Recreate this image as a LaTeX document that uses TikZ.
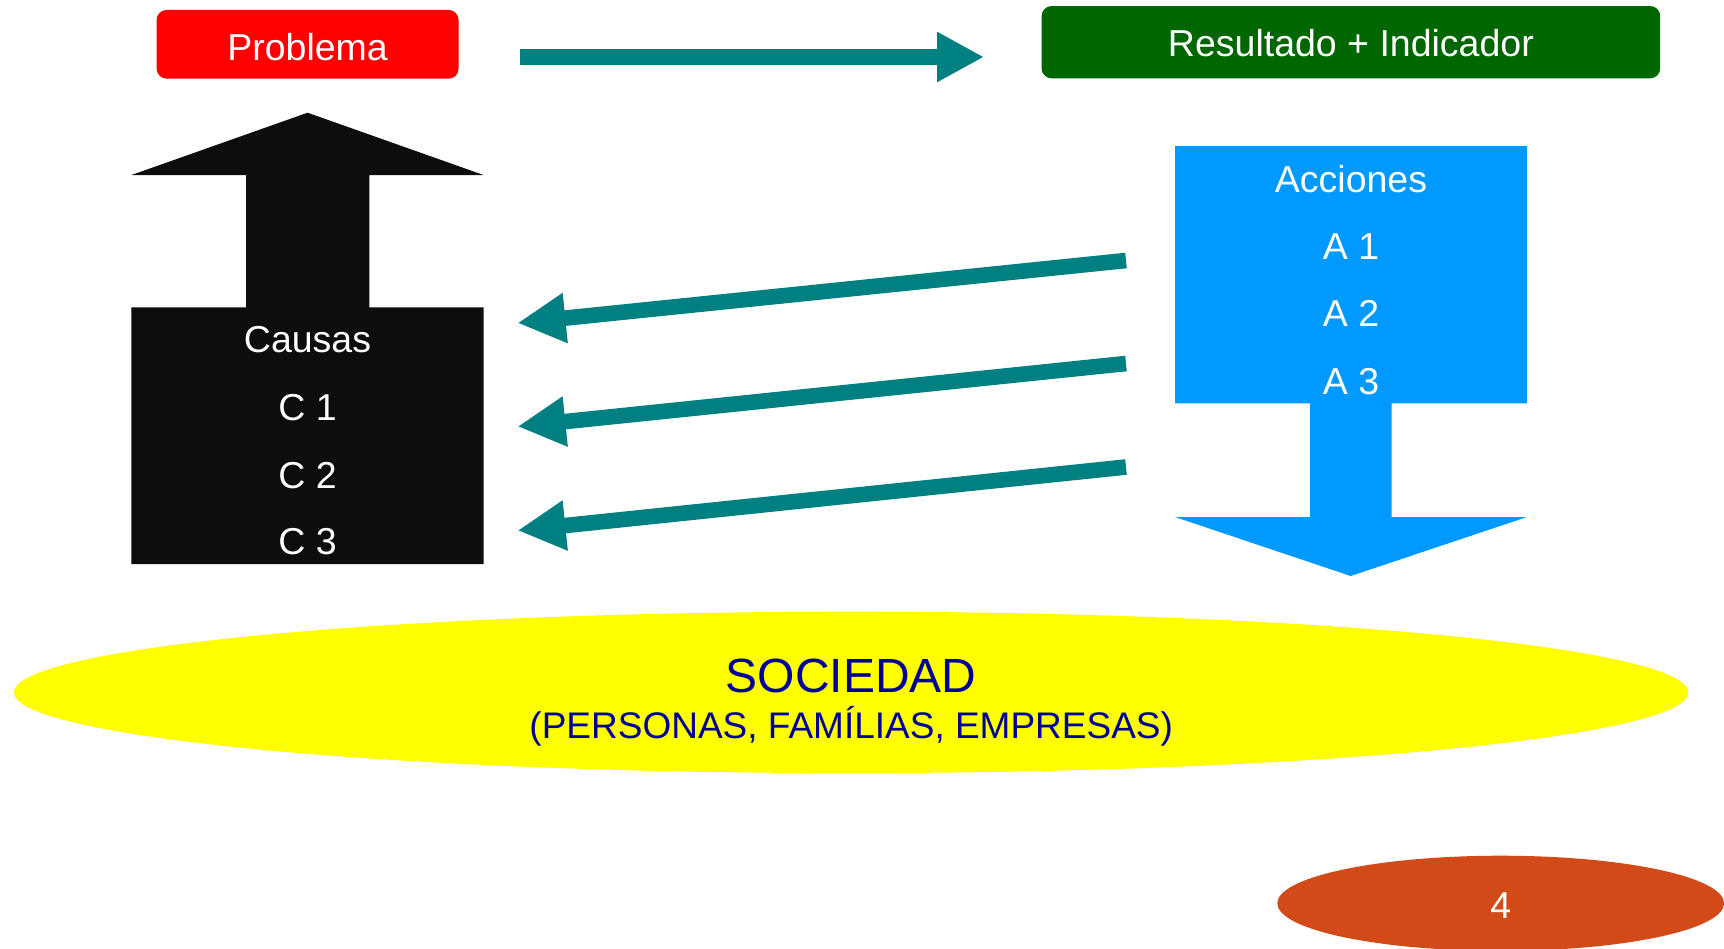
\documentclass[tikz,border=0pt]{standalone}
\usepackage{fontspec}
\setmainfont{Liberation Sans}
\usetikzlibrary{arrows.meta}
\definecolor{tealarr}{HTML}{008080}
\definecolor{probred}{HTML}{FF0000}
\definecolor{resgreen}{HTML}{006600}
\definecolor{accblue}{HTML}{0099FF}
\definecolor{causblack}{HTML}{0D0D0D}
\definecolor{socyellow}{HTML}{FFFF00}
\definecolor{socnavy}{HTML}{000099}
\definecolor{pageorange}{HTML}{D24A17}
\begin{document}
\begin{tikzpicture}[x=1pt,y=-1pt,
  lbl/.style={anchor=base,inner sep=0pt,text=white,font=\fontsize{37.5}{45}\selectfont},
  topbox/.style={draw=none,rounded corners=10pt,inner sep=0pt},
  tealline/.style={draw=tealarr,line width=15.6pt,line cap=butt,-{Triangle[width=47pt,length=48pt]}}]
\useasboundingbox (0,0) rectangle (1724,948);
% top boxes
\node[topbox,fill=probred,minimum width=302pt,minimum height=68.7pt] (prob) at (307.6,44.3) {};
\node[lbl] (tprob) at (307.6,60) {Problema};
\node[topbox,fill=resgreen,minimum width=618.6pt,minimum height=72.3pt] (res) at (1350.9,42.2) {};
\node[lbl] (tres) at (1350.9,56) {Resultado + Indicador};
% top arrow
\coordinate (pa) at (520,57);
\coordinate (ra) at (984,57);
\draw[tealline,-{Triangle[width=47pt,length=47pt]}] (pa) -- (ra);
% black up arrow with box
\fill[causblack] (131.3,564) -- (131.3,307.3) -- (246,307.3) -- (246,175) -- (131.5,175)
  -- (307.6,112.7) -- (483.5,175) -- (369.3,175) -- (369.3,307.3) -- (483.7,307.3) -- (483.7,564) -- cycle;
\node[lbl] (causas) at (307.5,352.7) {Causas};
\node[lbl] (c1) at (307.5,420.7) {C 1};
\node[lbl] (c2) at (307.5,488) {C 2};
\node[lbl] (c3) at (307.5,554.3) {C 3};
% blue down arrow with box
\fill[accblue] (1175,146) -- (1527,146) -- (1527,403.3) -- (1391.7,403.3) -- (1391.7,517) -- (1527,517)
  -- (1350.7,576) -- (1175,517) -- (1310,517) -- (1310,403.3) -- (1175,403.3) -- cycle;
\node[lbl] (acc) at (1351,192.3) {Acciones};
\node[lbl] (a1) at (1351,259.3) {A 1};
\node[lbl] (a2) at (1351,326) {A 2};
\node[lbl] (a3) at (1351,394) {A 3};
% diagonal arrows
\coordinate (s1) at (1126,260.5);
\coordinate (e1) at (517.5,323);
\coordinate (s2) at (1126,363.5);
\coordinate (e2) at (517.5,426.5);
\coordinate (s3) at (1126,467);
\coordinate (e3) at (517.5,530.5);
\draw[tealline] (s1) -- (e1);
\draw[tealline] (s2) -- (e2);
\draw[tealline] (s3) -- (e3);
% society ellipse
\fill[socyellow] (851.2,692.4) ellipse [x radius=837.2pt, y radius=80.7pt];
\node[anchor=base,inner sep=0pt,text=socnavy,font=\fontsize{48}{57}\selectfont] (soc) at (851.2,692.3) {SOCIEDAD};
\node[anchor=base,inner sep=0pt,text=socnavy,font=\fontsize{37}{44}\selectfont] (pers) at (851.2,738.7) {(PERSONAS, FAMÍLIAS, EMPRESAS)};
% page number ellipse
\fill[pageorange] (1500.7,903.3) ellipse [x radius=223.4pt, y radius=47.6pt];
\node[lbl] (pnum) at (1500.7,918.3) {4};
\end{tikzpicture}
\end{document}
